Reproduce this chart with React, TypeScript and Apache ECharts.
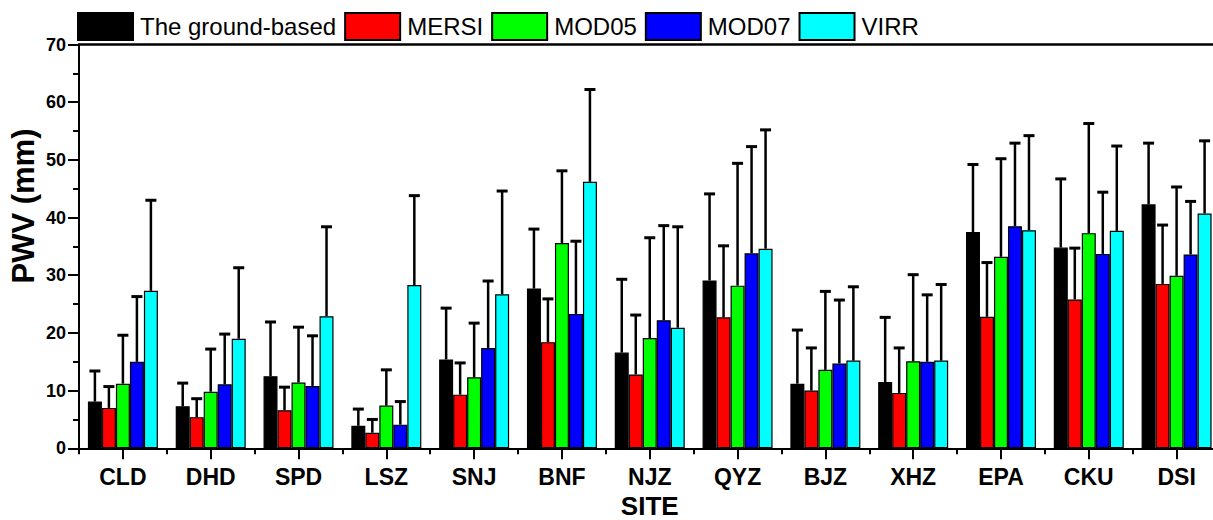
import React, { useEffect, useRef } from "react";
import * as echarts from "echarts";

const sites = ["CLD", "DHD", "SPD", "LSZ", "SNJ", "BNF", "NJZ", "QYZ", "BJZ", "XHZ", "EPA", "CKU", "DSI"];
const seriesNames = ["The ground-based", "MERSI", "MOD05", "MOD07", "VIRR"];
const seriesColors = ["#000000", "#ff0000", "#00ff00", "#0000ff", "#00ffff"];

const groundMean = [8.1, 7.3, 12.5, 3.9, 15.4, 27.7, 16.6, 29.1, 11.2, 11.5, 37.5, 34.8, 42.3];
const groundSd = [5.3, 4.0, 9.4, 2.9, 8.9, 10.3, 12.7, 15.0, 9.3, 11.2, 11.7, 11.9, 10.6];
const mersiMean = [7.0, 5.4, 6.6, 2.7, 9.3, 18.4, 12.8, 22.7, 10.0, 9.6, 22.8, 25.8, 28.5];
const mersiSd = [3.7, 3.2, 4.0, 2.3, 5.5, 7.5, 10.3, 12.4, 7.4, 7.8, 9.4, 8.9, 10.2];
const mod05Mean = [11.2, 9.8, 11.4, 7.4, 12.3, 35.6, 19.1, 28.2, 13.6, 15.1, 33.2, 37.3, 29.9];
const mod05Sd = [8.4, 7.4, 9.6, 6.2, 9.4, 12.5, 17.4, 21.2, 13.6, 15.0, 17.0, 19.0, 15.4];
const mod07Mean = [15.0, 11.1, 10.8, 4.1, 17.4, 23.3, 22.2, 33.8, 14.7, 15.0, 38.5, 33.7, 33.6];
const mod07Sd = [11.3, 8.7, 8.7, 4.0, 11.6, 12.6, 16.4, 18.5, 11.0, 11.6, 14.4, 10.7, 9.2];
const virrMean = [27.3, 19.0, 22.9, 28.3, 26.7, 46.2, 20.9, 34.6, 15.2, 15.2, 37.8, 37.7, 40.7];
const virrSd = [15.7, 12.3, 15.5, 15.5, 17.9, 16.0, 17.5, 20.6, 12.8, 13.2, 16.4, 14.7, 12.6];

const yTicks = [0, 10, 20, 30, 40, 50, 60, 70];

const means = [groundMean, mersiMean, mod05Mean, mod07Mean, virrMean];
const sds = [groundSd, mersiSd, mod05Sd, mod07Sd, virrSd];

const FONT = "'Liberation Sans', Arial, sans-serif";
const BAR_W = 14;

export default function App() {
  const ref = useRef<HTMLDivElement>(null);
  useEffect(() => {
    if (!ref.current) return;
    const chart = echarts.init(ref.current, undefined, { renderer: "svg" });

    const barSeries = seriesNames.map((name, i) => ({
      name,
      type: "bar",
      xAxisIndex: 0,
      yAxisIndex: 0,
      barWidth: BAR_W,
      barGap: "0%",
      data: means[i],
      itemStyle: { color: seriesColors[i], borderColor: "#000", borderWidth: 1.2 },
      z: 2,
    }));

    const errSeries = seriesNames.map((name, i) => ({
      name: "err-" + name,
      type: "custom",
      xAxisIndex: 0,
      yAxisIndex: 0,
      z: 3,
      data: means[i].map((m, k) => [k, m, sds[i][k]]),
      renderItem: (params: any, api: any) => {
        const k = api.value(0);
        const m = api.value(1);
        const s = api.value(2);
        const base = api.coord([k, m]);
        const top = api.coord([k, m + s]);
        const cx = base[0] + (i - 2) * BAR_W;
        return {
          type: "group",
          children: [
            { type: "line", shape: { x1: cx, y1: base[1], x2: cx, y2: top[1] }, style: { stroke: "#000", lineWidth: 2.5 } },
            { type: "line", shape: { x1: cx - 5.5, y1: top[1], x2: cx + 5.5, y2: top[1] }, style: { stroke: "#000", lineWidth: 3 } },
          ],
        };
      },
    }));

    chart.setOption({
      animation: false,
      backgroundColor: "#fff",
      textStyle: { fontFamily: FONT },
      legend: {
        data: seriesNames,
        left: 72,
        top: 7,
        itemWidth: 55,
        itemHeight: 27,
        itemGap: 8,
        icon: "rect",
        textStyle: { fontSize: 24, color: "#000", fontFamily: FONT, padding: [0, 0, 0, 2] },
      },
      grid: { left: 79, top: 44.5, width: 1141.5, height: 403.8, outerBoundsMode: "none" },
      xAxis: [
        {
          type: "category",
          data: sites,
          position: "bottom",
          name: "SITE",
          nameLocation: "middle",
          nameGap: 44,
          nameTextStyle: { fontSize: 26, fontWeight: "bold", color: "#000", fontFamily: FONT },
          axisLine: { show: true, lineStyle: { color: "#000", width: 2 } },
          axisTick: { show: true, alignWithLabel: true, length: 11, lineStyle: { color: "#000", width: 2 } },
          axisLabel: { fontSize: 23, fontWeight: "bold", color: "#000", margin: 17, fontFamily: FONT },
        },
        {
          type: "category",
          data: sites,
          position: "bottom",
          axisLine: { show: false },
          axisTick: { show: true, length: 6, lineStyle: { color: "#000", width: 2 } },
          axisLabel: { show: false },
        },
        {
          type: "category",
          data: sites,
          position: "top",
          axisLine: { show: true, lineStyle: { color: "#000", width: 2.5 } },
          axisTick: { show: false },
          axisLabel: { show: false },
        },
      ],
      yAxis: {
        type: "value",
        min: yTicks[0],
        max: yTicks[yTicks.length - 1],
        interval: 10,
        axisLine: { show: true, lineStyle: { color: "#000", width: 2 } },
        axisTick: { show: true, length: 11, lineStyle: { color: "#000", width: 2 } },
        minorTick: { show: true, splitNumber: 2, length: 6, lineStyle: { color: "#000", width: 2 } },
        splitLine: { show: false },
        axisLabel: { fontSize: 18, fontWeight: "bold", color: "#000", margin: 13, fontFamily: FONT },
      },
      graphic: [
        {
          type: "text",
          x: 23,
          y: 206,
          rotation: Math.PI / 2,
          style: {
            text: "PWV (mm)",
            fontSize: 31,
            fontWeight: "bold",
            fill: "#000",
            fontFamily: FONT,
            align: "center",
            verticalAlign: "middle",
          },
        },
      ],
      series: [...barSeries, ...errSeries],
    });
    return () => chart.dispose();
  }, []);
  return <div ref={ref} style={{ position: "absolute", left: 0, top: 0, width: 1213, height: 520 }} />;
}
